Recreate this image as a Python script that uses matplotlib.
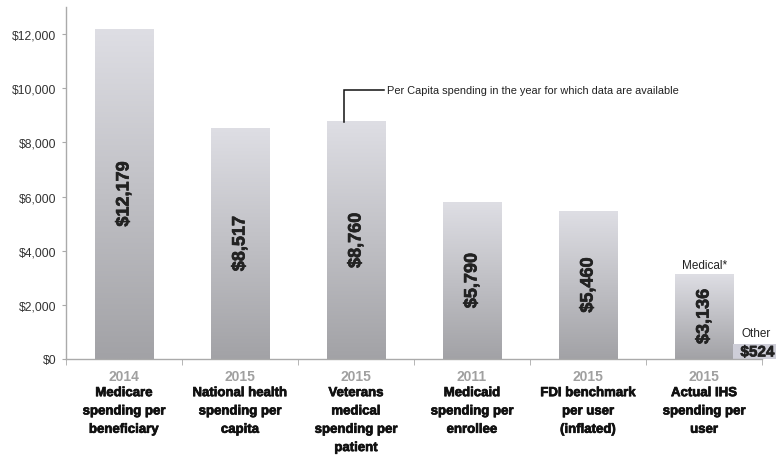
import numpy as np
import matplotlib
matplotlib.use("Agg")
import matplotlib.pyplot as plt
import matplotlib.patheffects as pe

# data
categories = ["Medicare\nspending per\nbeneficiary",
              "National health\nspending per\ncapita",
              "Veterans\nmedical\nspending per\npatient",
              "Medicaid\nspending per\nenrollee",
              "FDI benchmark\nper user\n(inflated)",
              "Actual IHS\nspending per\nuser"]
years = ["2014", "2015", "2015", "2011", "2015", "2015"]
values = [12179, 8517, 8760, 5790, 5460, 3136]
value_labels = ["$12,179", "$8,517", "$8,760", "$5,790", "$5,460", "$3,136"]
other_value = 524
other_label = "$524"
y_ticks = [0, 2000, 4000, 6000, 8000, 10000, 12000]

plt.rcParams['font.family'] = ['Liberation Sans', 'DejaVu Sans']

fig = plt.figure(figsize=(7.76, 4.56), dpi=100)
ax = fig.add_axes([66 / 776, 1 - 360 / 456, 1 - 66 / 776, 352 / 456])

grad = np.linspace(0, 1, 256).reshape(-1, 1)
top_c = np.array([222, 222, 228]) / 255
bot_c = np.array([162, 162, 166]) / 255
img = top_c[None, None, :] * (1 - grad[:, :, None]) + bot_c[None, None, :] * grad[:, :, None]


def grad_bar(x0, x1, h, im=img):
    ax.imshow(im, extent=[x0, x1, 0, h], aspect='auto', origin='upper', zorder=2)


w = 0.5
x = np.arange(len(values))
for i, v in enumerate(values):
    grad_bar(i - w / 2, i + w / 2, v)
    ax.text(i, v / 2, value_labels[i], rotation=90, ha='center', va='center',
            fontsize=13, fontweight='bold', color='#222222', zorder=3,
            path_effects=[pe.withStroke(linewidth=0.5, foreground='#222222')])

# the "Other" piece of IHS spending, short bar stays light
last = len(values) - 1
other_img = np.ones((2, 1, 3)) * (np.array([206, 206, 216]) / 255)
grad_bar(last + w / 2, last + w / 2 + w, other_value, other_img)
ax.text(last + 0.46, other_value / 2 - 20, other_label, ha='center', va='center',
        fontsize=11, fontweight='bold', color='#222222', zorder=3,
        path_effects=[pe.withStroke(linewidth=0.5, foreground='#222222')])
ax.text(last + 0.45, other_value + 200, "Other", ha='center', va='bottom',
        fontsize=8.5, color='#222222', zorder=3)
ax.text(last, values[last] + 130, "Medical*", ha='center', va='bottom',
        fontsize=8.5, color='#222222', zorder=3)

# bracket note on Veterans bar
ax.plot([1.9, 1.9, 2.24], [values[2], 9930, 9930], color='#111111', lw=1.1, zorder=3,
        solid_joinstyle='miter')
ax.text(2.27, 9930, "Per Capita spending in the year for which data are available",
        ha='left', va='center', fontsize=7.9, color='#222222')

ax.set_xlim(-0.5, 5.62)
ax.set_ylim(0, 13000)

ax.set_yticks(y_ticks)
ax.set_yticklabels(["${:,}".format(t) for t in y_ticks], fontsize=8.7, color='#333333')
ax.tick_params(axis='y', length=3, color='#aaaaaa', pad=4)

ax.set_xticks(x)
ax.set_xticklabels(years, fontsize=10, fontweight='bold', color='#a0a0a0')
ax.set_xticks(np.arange(-0.5, 6.0, 1.0), minor=True)
ax.tick_params(axis='x', which='major', length=0, pad=7)
ax.tick_params(axis='x', which='minor', length=4, color='#aaaaaa')

for s in ['top', 'right']:
    ax.spines[s].set_visible(False)
for s in ['left', 'bottom']:
    ax.spines[s].set_color('#aaaaaa')
    ax.spines[s].set_linewidth(1.0)
ax.spines['bottom'].set_bounds(-0.5, 5.5)

for i, c in enumerate(categories):
    ax.text(i, -0.08, c, transform=ax.get_xaxis_transform(), ha='center', va='top',
            fontsize=9.5, fontweight='bold', color='#111111', linespacing=1.7,
            path_effects=[pe.withStroke(linewidth=0.5, foreground='#111111')])

fig.savefig("out.png", dpi=100)
